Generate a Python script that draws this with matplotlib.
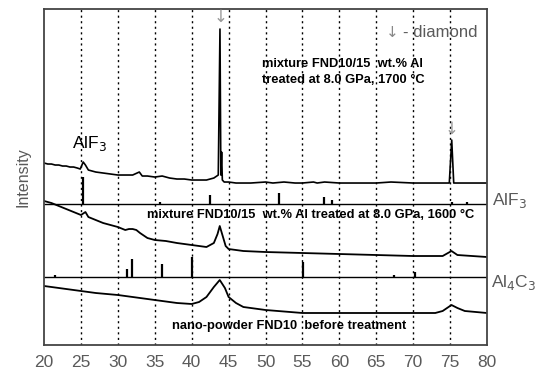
import matplotlib
matplotlib.use("Agg")
import matplotlib.pyplot as plt

plt.rcParams['font.family'] = ['Liberation Sans', 'DejaVu Sans']

# ---- data (2-theta, arbitrary intensity units) ----
x_1700 = [20, 20.5, 21, 21.5, 22, 22.5, 23, 23.5, 24, 24.5, 24.9, 25.3, 25.6, 26, 26.5, 27, 28, 29, 30, 31,
          32, 32.9, 33.3, 34, 35, 36, 37, 38, 39, 40, 41, 42, 43, 43.6,
          43.83, 43.95, 44.05, 44.15, 44.4, 45, 46, 48, 50, 51, 52.5, 54, 55, 56.5, 57, 58, 60, 62, 65, 67, 70,
          72, 74.9, 75.23, 75.5, 77, 80]
y_1700 = [182, 181, 181, 180, 180, 179, 179, 178, 178, 177, 176, 183, 180, 175, 174, 173, 172, 171, 170, 170,
          170, 173, 169, 169, 168, 169, 167, 166, 166, 165, 165, 165, 167, 170,
          316, 170, 193, 165, 163, 163, 162, 162, 163, 162, 163, 162, 162, 163, 162, 163, 162, 162, 162, 163, 162,
          162, 162, 205, 162, 162, 162]

alf3_base = 141
alf3_pos = [25.23, 35.7, 42.5, 51.8, 57.9, 59.0, 75.2, 77.3]
alf3_top = [168, 143, 150, 152, 148, 145, 143, 143]

x_1600 = [20, 21, 22, 23, 24, 25, 25.6, 26, 27, 28, 29, 30, 31, 31.5, 32, 32.5, 33, 34, 35, 36.5, 38, 40, 42, 43,
          43.5, 43.8, 44.2, 44.6, 45, 47, 50, 55, 60, 65, 70, 74, 75.2, 76, 80]
y_1600 = [144, 142, 139, 136, 133, 130, 133, 128, 125, 122, 120, 118, 115, 116, 116, 115, 112, 107, 105, 104,
          102, 100, 98, 102, 111, 119, 109, 99, 96, 94, 93, 92, 91, 90, 89, 89, 94, 90, 88]

al4c3_base = 68
al4c3_pos = [21.5, 31.2, 31.85, 35.95, 40.1, 55.1, 67.4, 70.2]
al4c3_top = [70, 76, 86, 81, 88, 83, 70, 73]

x_nano = [20, 22, 25, 27, 30, 32, 35, 38, 40, 41, 42, 43, 43.8, 44.5, 45, 46, 47, 50, 55, 60, 65, 70, 73, 74,
          75.2, 76, 77, 80]
y_nano = [59, 57, 54, 52, 50, 48, 45, 42, 41, 43, 48, 58, 65, 57, 48, 42, 38, 35, 32, 32, 32, 32, 32, 34,
          40, 37, 34, 32]

xticks = [20, 25, 30, 35, 40, 45, 50, 55, 60, 65, 70, 75, 80]

fig = plt.figure(figsize=(5.39, 3.77), dpi=100)
ax = fig.add_axes([0.0818, 0.0849, 0.9034 - 0.0818, 0.976 - 0.0849])

gray = '#5a5a5a'
ax.plot(x_1700, y_1700, color='black', lw=1.2)
ax.plot(x_1600, y_1600, color='black', lw=1.3)
ax.plot(x_nano, y_nano, color='black', lw=1.3)

ax.hlines(alf3_base, 20, 80, color='black', lw=1.0)
ax.vlines(alf3_pos, alf3_base, alf3_top, color='black', lw=1.6)
ax.hlines(al4c3_base, 20, 80, color='black', lw=1.0)
ax.vlines(al4c3_pos, al4c3_base, al4c3_top, color='black', lw=1.6)

for xv in xticks[1:-1]:
    ax.axvline(xv, color='black', lw=1.0, ls=(0, (1.5, 2.5)))

ax.set_xlim(20, 80)
ax.set_ylim(0, 336)
ax.set_xticks(xticks)
ax.set_xticklabels([str(v) for v in xticks])
ax.set_yticks([])
ax.tick_params(axis='x', length=0, labelsize=12.5, colors=gray, pad=7)
for s in ax.spines.values():
    s.set_color('#444444')
    s.set_linewidth(1.3)
ax.set_ylabel('Intensity', color=gray, fontsize=11.5, labelpad=10)

# annotations
ax.text(23.8, 202, 'AlF$_3$', fontsize=12.5, color='black', va='center', ha='left')
ax.text(66.3, 313, '↓', fontsize=11, color='#888888', va='center', ha='left', family=['DejaVu Sans'])
ax.text(68.6, 313, '- diamond', fontsize=12, color=gray, va='center', ha='left')
ax.text(43.95, 328, '↓', fontsize=12, color='#999999', va='center', ha='center', family=['DejaVu Sans'])
ax.text(75.23, 216, '↓', fontsize=12, color='#999999', va='center', ha='center', family=['DejaVu Sans'])
ax.text(49.55, 281, 'mixture FND10/15  wt.% Al', fontsize=9.3, fontweight='bold', va='center', ha='left')
ax.text(49.55, 265, 'treated at 8.0 GPa, 1700 °C', fontsize=9.3, fontweight='bold', va='center', ha='left')
ax.text(33.94, 130, 'mixture FND10/15  wt.% Al treated at 8.0 GPa, 1600 °C', fontsize=9.3,
        fontweight='bold', va='center', ha='left')
ax.text(37.33, 19, 'nano-powder FND10  before treatment', fontsize=9.3, fontweight='bold',
        va='center', ha='left')
ax.text(80.7, 145, 'AlF$_3$', fontsize=12.5, color=gray, va='center', ha='left', clip_on=False)
ax.text(80.5, 63, 'Al$_4$C$_3$', fontsize=12.5, color=gray, va='center', ha='left', clip_on=False)

fig.savefig('out.png', dpi=100)
